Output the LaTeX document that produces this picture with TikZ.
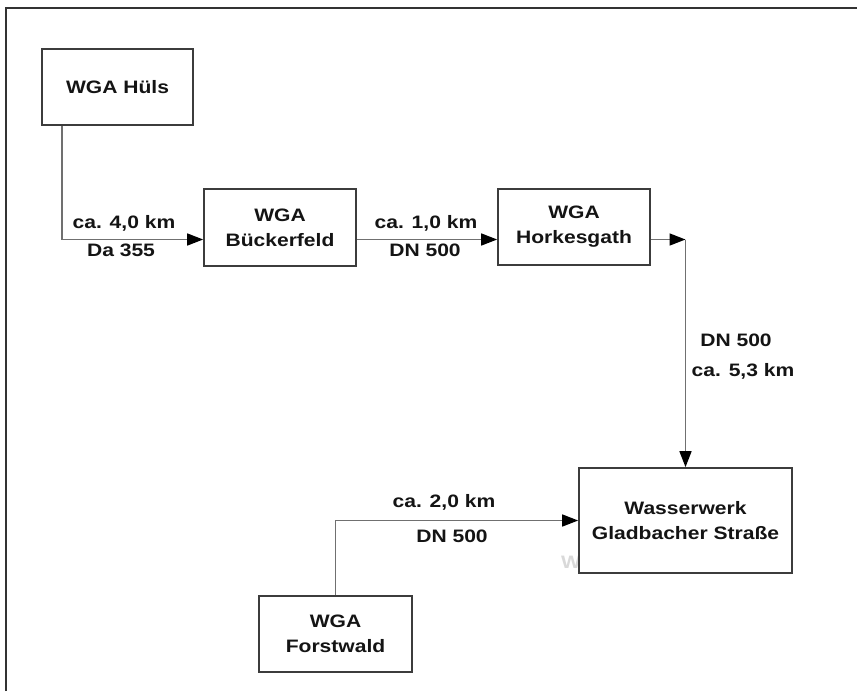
\documentclass[tikz,border=0pt]{standalone}
\usepackage{fontspec}
\setmainfont{Liberation Sans}[FakeStretch=1.17]
\usetikzlibrary{arrows.meta,calc}
\definecolor{boxline}{HTML}{3C3C3C}
\definecolor{connline}{HTML}{707070}
\definecolor{txt}{HTML}{141414}
\begin{document}
\begin{tikzpicture}[x=1pt,y=-1pt,
  every node/.style={font=\fontsize{18}{25}\selectfont\bfseries, text=txt},
  plantbox/.style={draw=boxline, line width=1.7pt, fill=white, inner sep=0pt, align=center},
  conn/.style={draw=connline, line width=1.6pt, -{Triangle[length=16pt,width=12pt,fill=black,color=black]}},
  lbl/.style={anchor=base, inner sep=0pt}
]
\useasboundingbox (0,0) rectangle (857,691);
\fill[white] (0,0) rectangle (857,691);
% frame (only top and left edges visible)
\draw[line width=2.2pt, draw=black!80] (6,691) -- (6,8) -- (857,8);

% faint watermark fragment
\node[text=black!15, anchor=base] (wm) at (571,568) {W};

% boxes
\node[plantbox, minimum width=151pt, minimum height=76pt] (hls) at (117.5,87) {WGA Hüls};
\node[plantbox, minimum width=152pt, minimum height=77pt] (bck) at (280,227.5) {WGA\\Bückerfeld};
\node[plantbox, minimum width=152pt, minimum height=76pt] (hrk) at (574,227) {WGA\\Horkesgath};
\node[plantbox, minimum width=213pt, minimum height=105pt] (wsw) at (685.5,520.5) {Wasserwerk\\Gladbacher Straße};
\node[plantbox, minimum width=153pt, minimum height=76pt] (fst) at (335.5,634) {WGA\\Forstwald};

% connector helper coordinates
\coordinate (r1) at (62,239.5);
\coordinate (bend) at (685.5,239.5);

% connectors
\draw[conn] (hls.south -| r1) |- (bck.west |- r1);
\draw[conn] (bck.east |- r1) -- (hrk.west |- r1);
\draw[conn] (hrk.east |- r1) -- (bend);
\draw[conn] (bend) -- (wsw.north);
\draw[conn] (fst.north) |- (wsw.west);

% labels
\node[lbl] (l1a) at (124,228.5) {ca. 4,0 km};
\node[lbl] (l1b) at (121,256.5) {Da 355};
\node[lbl] (l2a) at (426,228.5) {ca. 1,0 km};
\node[lbl] (l2b) at (425,256.5) {DN 500};
\node[lbl] (l3a) at (736,346.5) {DN 500};
\node[lbl] (l3b) at (743,376.5) {ca. 5,3 km};
\node[lbl] (l4a) at (444,507.5) {ca. 2,0 km};
\node[lbl] (l4b) at (452,542.5) {DN 500};
\end{tikzpicture}
\end{document}
